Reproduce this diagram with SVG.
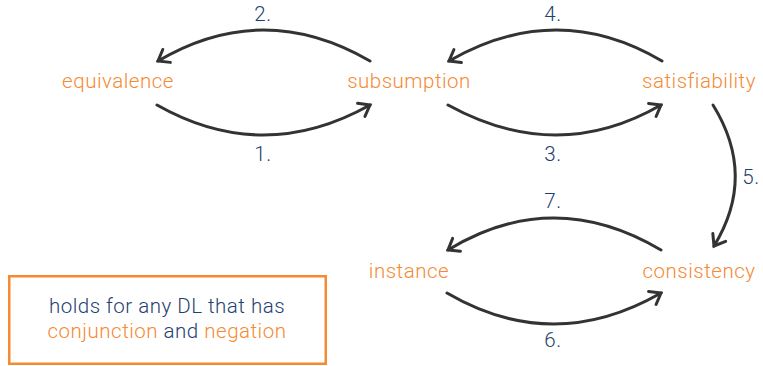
<svg xmlns="http://www.w3.org/2000/svg" width="763" height="366" viewBox="0 0 763 366">
  <style>
    text { font-family: Roboto, "Liberation Sans", sans-serif; font-weight: 300; font-size: 20.5px; letter-spacing: 0.5px; }
    .node { fill: #F58A33; text-anchor: middle; }
    .num { fill: #1E4170; text-anchor: middle; }
    .note { fill: #1E4170; text-anchor: middle; }
    .hl { fill: #F58A33; }
    .arc { fill: none; stroke: #333333; stroke-width: 3; stroke-linecap: round; }
  </style>
  <defs>
    <marker id="head" markerUnits="userSpaceOnUse" markerWidth="24" markerHeight="24" refX="0" refY="0" viewBox="-14 -12 24 24" orient="auto">
      <path d="M-10,-7.5 L0,0 L-10,7.5" fill="none" stroke="#333333" stroke-width="3" stroke-linecap="round" stroke-linejoin="miter"/>
    </marker>
  </defs>

  <g id="connectors">
    <path class="arc" d="M370,61 Q263,-1 158,61" marker-end="url(#head)"/>
    <path class="arc" d="M157,105 Q263,165 370,105" marker-end="url(#head)"/>
    <path class="arc" d="M662,61 Q557,-1 449,61" marker-end="url(#head)"/>
    <path class="arc" d="M448,105 Q557,165 661,105" marker-end="url(#head)"/>
    <path class="arc" d="M713,105 Q757,176 714,246" marker-end="url(#head)"/>
    <path class="arc" d="M661,250 Q553,186 448,250" marker-end="url(#head)"/>
    <path class="arc" d="M447,293 Q553,355 661,293" marker-end="url(#head)"/>
    <text class="num" x="263" y="21">2.</text>
    <text class="num" x="263" y="161">1.</text>
    <text class="num" x="553" y="21">4.</text>
    <text class="num" x="553" y="161">3.</text>
    <text class="num" x="751" y="184">5.</text>
    <text class="num" x="553" y="208">7.</text>
    <text class="num" x="553" y="347">6.</text>
  </g>

  <g id="equivalence"><text class="node" x="118" y="88">equivalence</text></g>
  <g id="subsumption"><text class="node" x="409" y="88">subsumption</text></g>
  <g id="satisfiability"><text class="node" x="699" y="88">satisfiability</text></g>
  <g id="instance"><text class="node" x="409" y="278">instance</text></g>
  <g id="consistency"><text class="node" x="699" y="278">consistency</text></g>

  <g id="note">
    <rect x="9.25" y="276.25" width="316.5" height="87.5" fill="none" stroke="#F58A33" stroke-width="2.5"/>
    <text class="note" x="167" y="313">holds for any DL that has</text>
    <text class="note" x="167" y="338"><tspan class="hl">conjunction</tspan> and <tspan class="hl">negation</tspan></text>
  </g>
</svg>
